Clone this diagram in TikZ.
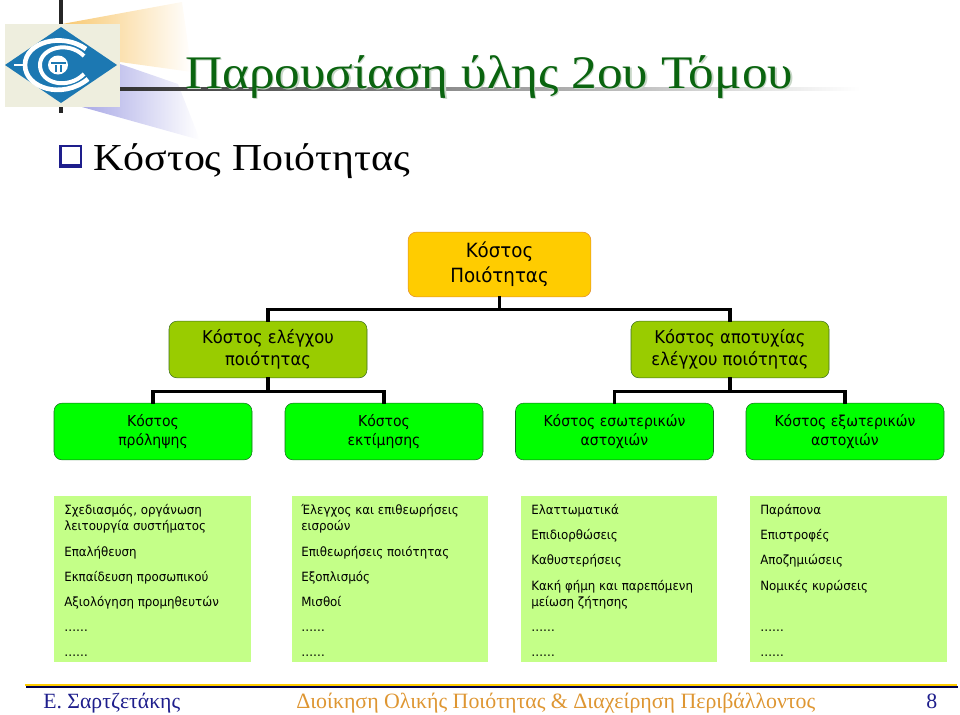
\documentclass[tikz,border=0pt]{standalone}
\usepackage{fontspec}
\setmainfont{Liberation Serif}
\setsansfont[FakeStretch=0.93]{DejaVu Sans}
\newfontfamily\wideserif[FakeStretch=1.1]{Liberation Serif}
\usetikzlibrary{positioning}
\definecolor{cqOrange}{RGB}{255,204,0}
\definecolor{cqOrangeLine}{RGB}{225,140,40}
\definecolor{cqOlive}{RGB}{153,204,0}
\definecolor{cqOliveLine}{RGB}{60,110,30}
\definecolor{cqGreen}{RGB}{0,255,0}
\definecolor{cqGreenLine}{RGB}{20,110,30}
\definecolor{cqPanel}{RGB}{196,255,136}
\definecolor{cqTitle}{RGB}{10,100,15}
\definecolor{cqShadow}{RGB}{200,215,200}
\definecolor{cqNavy}{RGB}{30,30,140}
\definecolor{cqFoot}{RGB}{222,150,50}
\definecolor{cqLogo}{RGB}{28,120,178}
\definecolor{cqLogoBack}{RGB}{238,238,222}
\definecolor{cqWedgeA}{RGB}{248,200,112}
\definecolor{cqWedgeB}{RGB}{255,238,214}
\definecolor{cqWedgeC}{RGB}{170,170,230}
\newcommand{\shadowed}[1]{\rlap{\hspace{1pt}\raisebox{-1pt}{\textcolor{cqShadow}{#1}}}\textcolor{cqTitle}{#1}}
\tikzset{
    base/.style={align=center, text=black, rounded corners=6pt, inner sep=0pt},
    rootbox/.style={base, draw=cqOrangeLine, fill=cqOrange, minimum width=137pt, minimum height=48.5pt,
                    font=\sffamily\fontsize{14.7}{18.75}\selectfont,
                    execute at begin node={\rule{0pt}{18pt}}},
    midbox/.style={base, draw=cqOliveLine, fill=cqOlive, minimum width=148.5pt, minimum height=42.5pt,
                   font=\sffamily\fontsize{13.2}{16.5}\selectfont,
                   execute at begin node={\rule{0pt}{16.6pt}}},
    leafbox/.style={base, draw=cqGreenLine, fill=cqGreen, minimum width=148.5pt, minimum height=42.5pt,
                    font=\sffamily\fontsize{11.3}{14.25}\selectfont,
                    execute at begin node={\rule{0pt}{14.8pt}}},
    panel/.style={fill=cqPanel, inner sep=0pt, minimum width=147.5pt, minimum height=124.5pt},
    items/.style={anchor=north west, align=left, inner sep=0pt, text=black,
                  font=\sffamily\fontsize{9.55}{12.4}\selectfont},
    link/.style={line width=2.3pt, black, line cap=rect}
}
\begin{document}
\begin{tikzpicture}[x=0.75pt, y=-0.75pt]
  \useasboundingbox (0,0) rectangle (960,714);

  % Header shades
  \shade[left color=cqWedgeA, middle color=cqWedgeB, right color=white] (62,24) -- (182,2) -- (192,72) -- (120,62) -- (120,24) -- cycle;
  \shade[left color=cqWedgeC, right color=white] (120,64) -- (178,84) -- (200,140) -- (82,107) -- (120,107) -- cycle;
  \shade[left color=black!80, right color=white] (120,87) rectangle (860,90.5);

  % Logo
  \draw[line width=2.5pt, black!85] (61,0) -- (61,113);
  \fill[cqLogoBack] (5,24) rectangle (120,107);
  \fill[cqLogo] (5,65) -- (61,27) -- (117,65) -- (61,103) -- cycle;
  \draw[white, line width=3.5pt] (86,49) .. controls (62,32) and (25,42) .. (25,65) .. controls (25,88) and (62,100) .. (88,79);
  \draw[white, line width=3pt] (84,56) .. controls (68,40) and (40,48) .. (40,65) .. controls (40,84) and (68,90) .. (84,74);
  \draw[white, line width=1.5pt] (14,65) -- (25,65);
  \fill[white] (58,65) ellipse[x radius=10, y radius=9.5];
  \fill[cqLogo] (51,62) rectangle (66,64);
  \fill[cqLogo] (55,65) rectangle (57,72);
  \fill[cqLogo] (60,65) rectangle (62,72);

  % Title
  \node[anchor=base west, inner sep=0pt, font=\wideserif\fontsize{35}{38}\selectfont] (title) at (185,88) {\shadowed{Παρουσίαση ύλης 2ου Τόμου}};

  % Subtitle
  \fill[cqNavy] (58.5,145) rectangle (81.5,168);
  \fill[white] (62,147) rectangle (80,164);
  \node[anchor=base west, inner sep=0pt, font=\wideserif\fontsize{28.6}{32}\selectfont] (subtitle) at (93,170) {Κόστος Ποιότητας};

  % Tree
  \node[rootbox] (cost) at (499.5,264.5) {Κόστος\\Ποιότητας};
  \node[midbox] (control) at (268,349.5) {Κόστος ελέγχου\\ποιότητας};
  \node[midbox] (failure) at (730,349.5) {Κόστος αποτυχίας\\ελέγχου ποιότητας};
  \node[leafbox] (prevent) at (153,431.5) {Κόστος\\πρόληψης};
  \node[leafbox] (assess) at (384,431.5) {Κόστος\\εκτίμησης};
  \node[leafbox] (internal) at (614.5,431.5) {Κόστος εσωτερικών\\αστοχιών};
  \node[leafbox] (external) at (845,431.5) {Κόστος εξωτερικών\\αστοχιών};

  \draw[link] (cost.south) -- ++(0,12) -| (control.north);
  \draw[link] (cost.south) -- ++(0,12) -| (failure.north);
  \draw[link] (control.south) -- ++(0,13) -| (prevent.north);
  \draw[link] (control.south) -- ++(0,13) -| (assess.north);
  \draw[link] (failure.south) -- ++(0,13) -| (internal.north);
  \draw[link] (failure.south) -- ++(0,13) -| (external.north);

  % Panels
  \node[panel] (panelA) at (152.5,579) {};
  \node[panel] (panelB) at (390,579) {};
  \node[panel] (panelC) at (619,579) {};
  \node[panel] (panelD) at (848.5,579) {};

  \node[items] (itemsA) at (64,504) {Σχεδιασμός, οργάνωση\\λειτουργία συστήματος\\[6.5pt]Επαλήθευση\\[6.5pt]Εκπαίδευση προσωπικού\\[6.5pt]Αξιολόγηση προμηθευτών\\[6.5pt]……\\[6.5pt]……};
  \node[items] (itemsB) at (301,504) {Έλεγχος και επιθεωρήσεις\\εισροών\\[6.5pt]Επιθεωρήσεις ποιότητας\\[6.5pt]Εξοπλισμός\\[6.5pt]Μισθοί\\[6.5pt]……\\[6.5pt]……};
  \node[items] (itemsC) at (531,504) {Ελαττωματικά\\[6.5pt]Επιδιορθώσεις\\[6.5pt]Καθυστερήσεις\\[6.5pt]Κακή φήμη και παρεπόμενη\\μείωση ζήτησης\\[6.5pt]……\\[6.5pt]……};
  \node[items] (itemsD) at (760,504) {Παράπονα\\[6.5pt]Επιστροφές\\[6.5pt]Αποζημιώσεις\\[6.5pt]Νομικές κυρώσεις\\[19pt]……\\[6.2pt]……};

  % Footer
  \draw[line width=1.5pt, black!70!blue] (26,686.5) -- (958,686.5);
  \draw[line width=2pt, cqOrange] (25,685) -- (957,685);
  \node[anchor=base west, inner sep=0pt, text=cqNavy, font=\fontsize{16.3}{18}\selectfont] (author) at (43,708) {Ε. Σαρτζετάκης};
  \node[anchor=base west, inner sep=0pt, text=cqFoot, font=\fontsize{16.4}{18}\selectfont] (course) at (296,708) {Διοίκηση Ολικής Ποιότητας \& Διαχείρηση Περιβάλλοντος};
  \node[anchor=base west, inner sep=0pt, text=cqNavy, font=\fontsize{16.4}{18}\selectfont] (page) at (926,708) {8};
\end{tikzpicture}
\end{document}
